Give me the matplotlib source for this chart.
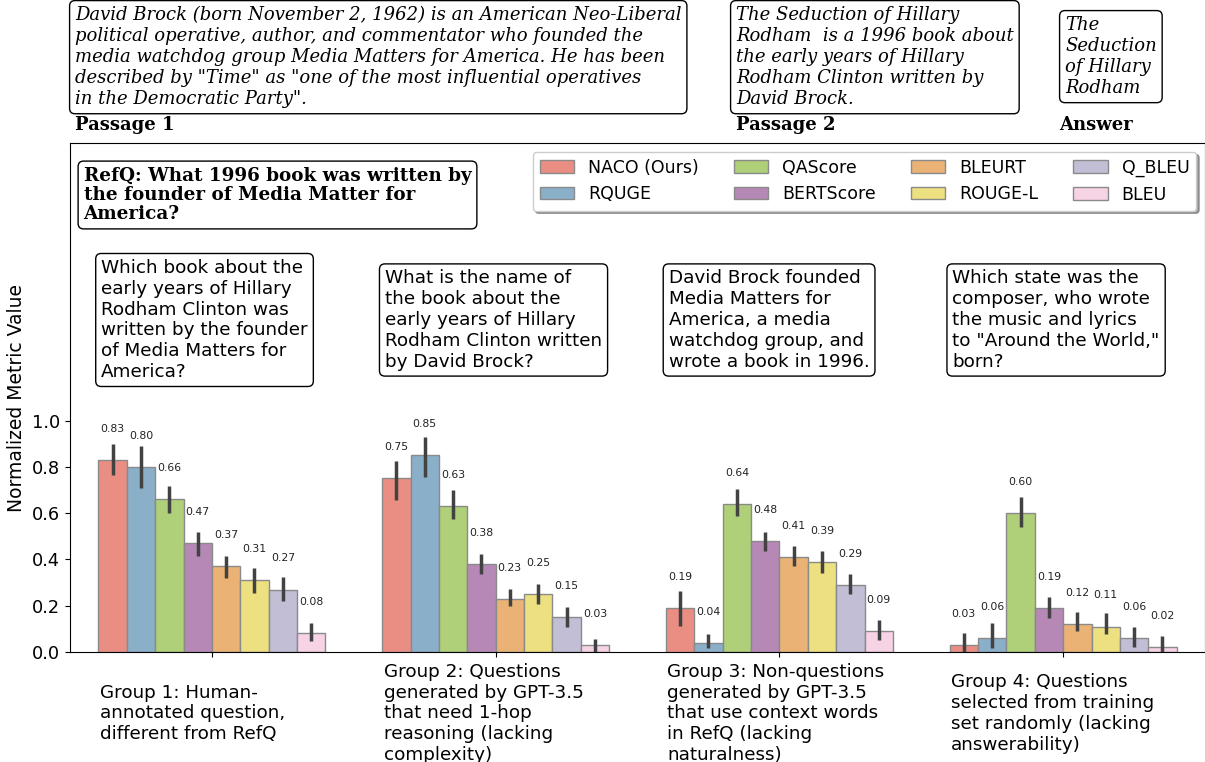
import matplotlib.pyplot as plt
import numpy as np
import seaborn as sns

metrics = ['NACO (Ours)', 'RQUGE', 'QAScore', 'BERTScore', 'BLEURT', 'ROUGE-L', 'Q_BLEU', 'BLEU']
groups = ['Group 1: Human-\nannotated question,\ndifferent from RefQ',
          'Group 2: Questions\ngenerated by GPT-3.5\nthat need 1-hop\nreasoning (lacking\ncomplexity)',
          'Group 3: Non-questions\ngenerated by GPT-3.5\nthat use context words\nin RefQ (lacking\nnaturalness)',
          'Group 4: Questions\nselected from training\nset randomly (lacking\nanswerability)']

# mean value per group (rows) and metric (columns)
values = [[0.83, 0.80, 0.66, 0.47, 0.37, 0.31, 0.27, 0.08],
          [0.75, 0.85, 0.63, 0.38, 0.23, 0.25, 0.15, 0.03],
          [0.19, 0.04, 0.64, 0.48, 0.41, 0.39, 0.29, 0.09],
          [0.03, 0.06, 0.60, 0.19, 0.12, 0.11, 0.06, 0.02]]
err_low = [[0.765, 0.709, 0.601, 0.417, 0.322, 0.254, 0.219, 0.046],
           [0.657, 0.758, 0.574, 0.339, 0.197, 0.209, 0.110, 0.000],
           [0.114, 0.019, 0.586, 0.436, 0.370, 0.341, 0.251, 0.051],
           [0.000, 0.016, 0.541, 0.146, 0.090, 0.077, 0.023, 0.000]]
err_high = [[0.897, 0.890, 0.716, 0.519, 0.417, 0.361, 0.323, 0.126],
            [0.825, 0.930, 0.699, 0.422, 0.272, 0.294, 0.196, 0.058],
            [0.265, 0.078, 0.706, 0.520, 0.458, 0.435, 0.339, 0.139],
            [0.081, 0.125, 0.671, 0.239, 0.174, 0.167, 0.107, 0.068]]

questions = ['Which book about the\nearly years of Hillary\nRodham Clinton was\nwritten by the founder\nof Media Matters for\nAmerica?',
             'What is the name of\nthe book about the\nearly years of Hillary\nRodham Clinton written\nby David Brock?',
             'David Brock founded\nMedia Matters for\nAmerica, a media\nwatchdog group, and\nwrote a book in 1996.',
             'Which state was the\ncomposer, who wrote\nthe music and lyrics\nto "Around the World,"\nborn?']

refq = 'RefQ: What 1996 book was written by\nthe founder of Media Matter for\nAmerica?'
passage1 = ('David Brock (born November 2, 1962) is an American Neo-Liberal\n'
            'political operative, author, and commentator who founded the\n'
            'media watchdog group Media Matters for America. He has been\n'
            'described by "Time" as "one of the most influential operatives\n'
            'in the Democratic Party".')
passage2 = ('The Seduction of Hillary\nRodham  is a 1996 book about\nthe early years of Hillary\n'
            'Rodham Clinton written by\nDavid Brock.')
answer = 'The\nSeduction\nof Hillary\nRodham'

set3 = plt.get_cmap('Set3').colors
colors = [sns.desaturate(set3[i], 0.75) for i in [3, 4, 6, 9, 5, 11, 2, 7]]

fs = 13.2
W, H = 1205, 762
fig = plt.figure(figsize=(W / 100, H / 100), dpi=100)
ax = fig.add_axes([70 / W, 110 / H, 1135 / W, 509 / H])

values = np.array(values)
lo = np.array(err_low)
hi = np.array(err_high)
n = len(metrics)
bw = 0.8 / n
x = np.arange(len(groups))
for j in range(n):
    xs = x - 0.4 + bw * (j + 0.5)
    ax.bar(xs, values[:, j], width=bw, color=colors[j], edgecolor='#8a8a8a', linewidth=1, label=metrics[j])
    ax.vlines(xs, lo[:, j], hi[:, j], color='#424242', linewidth=2.5, zorder=3)
    for xi, v in zip(xs, values[:, j]):
        ax.text(xi, v + 0.135, f'{v:.2f}', ha='center', va='center', fontsize=7.8, color='#222222')

ax.set_xlim(-0.5, 3.5)
ax.set_ylim(0, 2.2)
ax.set_xticks(x)
ax.set_xticklabels([])
ax.set_yticks([0, 0.2, 0.4, 0.6, 0.8, 1.0])
ax.tick_params(axis='y', labelsize=12.8)
ax.set_ylabel('Normalized Metric Value', fontsize=13.5)

for i, g in enumerate(groups):
    ax.text(i - 0.395, -0.265, g, ha='left', va='center', fontsize=fs, clip_on=False)

for i, q in enumerate(questions):
    ax.text(i - 0.39, 1.435, q, ha='left', va='center', fontsize=fs,
            bbox=dict(boxstyle='round,pad=0.3', facecolor='white', edgecolor='black'))

ax.text(-0.452, 2.098, refq, ha='left', va='top', fontsize=fs, family='DejaVu Serif', weight='bold',
        linespacing=1.1,
        bbox=dict(boxstyle='round,pad=0.3', facecolor='white', edgecolor='black'))

ax.legend(loc='upper right', ncol=4, fontsize=12.5, shadow=True, fancybox=True,
          columnspacing=2.0, handlelength=2.0)

box = dict(boxstyle='round,pad=0.3', facecolor='white', edgecolor='black')
fig.text(75 / W, 1 - 6 / H, passage1, ha='left', va='top', fontsize=13, family='DejaVu Serif',
         style='italic', linespacing=1.22, bbox=box)
fig.text(736 / W, 1 - 6 / H, passage2, ha='left', va='top', fontsize=13, family='DejaVu Serif',
         style='italic', linespacing=1.22, bbox=box)
fig.text(1065 / W, 1 - 16 / H, answer, ha='left', va='top', fontsize=13, family='DejaVu Serif',
         style='italic', linespacing=1.22, bbox=box)
fig.text(75 / W, 1 - 125 / H, 'Passage 1', ha='left', va='center', fontsize=13, family='DejaVu Serif', weight='bold')
fig.text(736 / W, 1 - 125 / H, 'Passage 2', ha='left', va='center', fontsize=13, family='DejaVu Serif', weight='bold')
fig.text(1059 / W, 1 - 125 / H, 'Answer', ha='left', va='center', fontsize=13, family='DejaVu Serif', weight='bold')

fig.savefig('out.png', dpi=100)
